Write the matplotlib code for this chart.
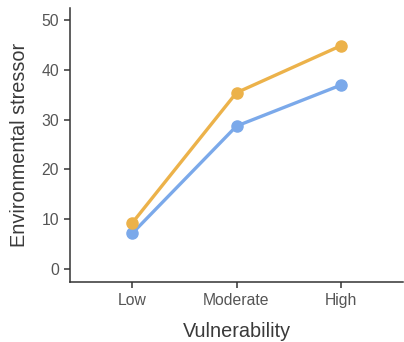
import matplotlib
matplotlib.use("Agg")
import matplotlib.pyplot as plt

# data
categories = ["Low", "Moderate", "High"]
orange_vals = [9.3, 35.4, 44.8]
blue_vals = [7.2, 28.7, 36.9]
yticks = [0, 10, 20, 30, 40, 50]

plt.rcParams['font.family'] = ['Liberation Sans', 'DejaVu Sans']

fig = plt.figure(figsize=(4.04, 3.42), dpi=100)
ax = fig.add_axes([70 / 404, 1 - 282 / 342, (403 - 70) / 404, (282 - 8) / 342])

x = list(range(len(categories)))
ax.plot(x, blue_vals, color='#7BA9EA', lw=2.4, marker='o', ms=8, solid_capstyle='round')
ax.plot(x, orange_vals, color='#ECB24A', lw=2.4, marker='o', ms=8, solid_capstyle='round')

ax.set_xlim(-0.6, 2.6)
ax.set_ylim(-2.6, 52.4)
ax.set_xticks(x)
ax.set_xticklabels(categories)
ax.set_yticks(yticks)

for s in ['top', 'right']:
    ax.spines[s].set_visible(False)
for s in ['left', 'bottom']:
    ax.spines[s].set_color('#333333')
    ax.spines[s].set_linewidth(1.1)

ax.tick_params(colors='#333333', labelcolor='#555555', labelsize=11.3, length=4, width=1.1, pad=4)
ax.set_xlabel("Vulnerability", fontsize=14.3, color='#3A3A3A', labelpad=10)
ax.set_ylabel("Environmental stressor", fontsize=14.3, color='#3A3A3A', labelpad=9)

fig.savefig("out.png", dpi=100)
